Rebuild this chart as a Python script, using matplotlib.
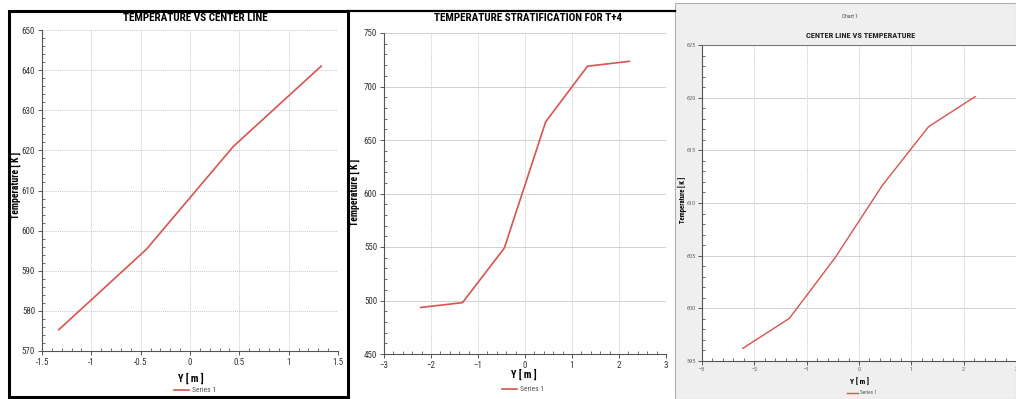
import matplotlib
matplotlib.use('Agg')
import matplotlib.pyplot as plt
from matplotlib import font_manager
from matplotlib.patches import Rectangle
from matplotlib.ticker import MultipleLocator, AutoMinorLocator

# Data
y1 = [-1.33, -0.44, 0.44, 1.33]
t1 = [575.3, 595.4, 621.0, 641.0]

y2 = [-2.22, -1.33, -0.44, 0.44, 1.33, 2.22]
t2 = [493.5, 498.0, 549.0, 667.0, 719.0, 723.5]

y3 = [-2.22, -1.33, -0.45, 0.45, 1.33, 2.22]
t3 = [596.2, 599.05, 604.85, 611.7, 617.25, 620.1]

titles = ['TEMPERATURE VS CENTER LINE', 'TEMPERATURE STRATIFICATION FOR T+4',
          'CENTER LINE VS TEMPERATURE']

# pick a narrow font if one is around
names = {f.name for f in font_manager.fontManager.ttflist}
font = 'DejaVu Sans'
for cand in ['Liberation Sans Narrow', 'Roboto Condensed', 'Open Sans Condensed']:
    if cand in names:
        font = cand
        break
plt.rcParams['font.family'] = [font, 'DejaVu Sans']

W, H = 1016, 399
RED = '#d9534f'


def box(l, t, r, b):
    return [l / W, 1 - b / H, (r - l) / W, (b - t) / H]


def fx(x):
    return x / W


def fy(y):
    return 1 - y / H


fig = plt.figure(figsize=(W / 100, H / 100), dpi=100)
fig.patch.set_facecolor('white')

# grey background of the third screenshot
fig.patches.append(Rectangle((fx(675), 0), 1 - fx(675), fy(3), transform=fig.transFigure,
                             facecolor='#efefef', edgecolor='#b0b0b0', lw=0.8, zorder=-2))
# black frames around the first two screenshots
fig.patches.append(Rectangle((fx(8.5), fy(397)), fx(348) - fx(8.5), fy(10.5) - fy(397),
                             transform=fig.transFigure, facecolor='none',
                             edgecolor='black', lw=2.2, zorder=5))
fig.lines.append(plt.Line2D([fx(348), fx(675)], [fy(10.5), fy(10.5)],
                            transform=fig.transFigure, color='black', lw=1.6))


def style_axes(ax, fs, solid_h=False):
    ax.set_facecolor('white')
    for s in ['top', 'right']:
        ax.spines[s].set_visible(False)
    for s in ['left', 'bottom']:
        ax.spines[s].set_color('#555555')
        ax.spines[s].set_linewidth(0.8)
    ax.tick_params(which='major', direction='out', length=3, width=0.7,
                   color='#555555', labelsize=fs, labelcolor='#333333', pad=2)
    ax.tick_params(which='minor', direction='in', length=2, width=0.6, color='#555555')
    ax.xaxis.set_minor_locator(AutoMinorLocator(5))
    ax.yaxis.set_minor_locator(AutoMinorLocator(5))
    ax.grid(True, axis='x', color='#c8c8c8', ls=(0, (1, 1)), lw=0.7)
    if solid_h:
        ax.grid(True, axis='y', color='#d0d0d0', ls='-', lw=0.7)
    else:
        ax.grid(True, axis='y', color='#c8c8c8', ls=(0, (1, 1)), lw=0.7)
    ax.set_axisbelow(True)


def legend(ax, cx, cy, fs):
    ax.legend(loc='center', bbox_to_anchor=(fx(cx), fy(cy)), bbox_transform=fig.transFigure,
              frameon=False, fontsize=fs, handlelength=2.0, handletextpad=0.4,
              labelcolor='#555555', borderpad=0)


# ---- panel 1
ax1 = fig.add_axes(box(42, 30, 338, 351))
ax1.plot(y1, t1, color=RED, lw=1.2, label='Series 1')
ax1.set_xlim(-1.5, 1.5)
ax1.set_ylim(570, 650)
ax1.xaxis.set_major_locator(MultipleLocator(0.5))
ax1.yaxis.set_major_locator(MultipleLocator(10))
style_axes(ax1, 6.5)
ax1.set_xticks([-1.5, -1, -0.5, 0, 0.5, 1, 1.5])
ax1.set_xticklabels(['-1.5', '-1', '-0.5', '0', '0.5', '1', '1.5'])
fig.text(fx(195), fy(18), titles[0], ha='center', va='center', fontsize=8, fontweight='bold')
fig.text(fx(15), fy(185), 'Temperature [ K ]', ha='center', va='center', rotation=90,
         fontsize=7, fontweight='bold')
fig.text(fx(191), fy(378), 'Y [ m ]', ha='center', va='center', fontsize=7.5, fontweight='bold')
legend(ax1, 195, 390, 5.5)

# ---- panel 2
ax2 = fig.add_axes(box(384, 33, 666, 354))
ax2.plot(y2, t2, color=RED, lw=1.2, label='Series 1')
ax2.set_xlim(-3, 3)
ax2.set_ylim(450, 750)
ax2.xaxis.set_major_locator(MultipleLocator(1))
ax2.yaxis.set_major_locator(MultipleLocator(50))
style_axes(ax2, 6.5, solid_h=True)
fig.text(fx(528), fy(18), titles[1], ha='center', va='center', fontsize=8, fontweight='bold')
fig.text(fx(354), fy(192), 'Temperature [ K ]', ha='center', va='center', rotation=90,
         fontsize=7, fontweight='bold')
fig.text(fx(524), fy(374), 'Y [ m ]', ha='center', va='center', fontsize=7.5, fontweight='bold')
legend(ax2, 523, 389, 5.5)

# ---- panel 3
ax3 = fig.add_axes(box(702, 45, 1016, 361))
ax3.plot(y3, t3, color=RED, lw=1.0, label='Series 1')
ax3.set_xlim(-3, 3)
ax3.set_ylim(595, 625)
ax3.xaxis.set_major_locator(MultipleLocator(1))
ax3.yaxis.set_major_locator(MultipleLocator(5))
style_axes(ax3, 4.5, solid_h=True)
ax3.spines['top'].set_visible(True)
ax3.spines['top'].set_color('#777777')
ax3.tick_params(which='major', labelcolor='#666666', pad=1.5)
fig.text(fx(850), fy(17), 'Chart 1', ha='center', va='center', fontsize=4, color='#444444')
fig.text(fx(861), fy(36), titles[2], ha='center', va='center', fontsize=6, fontweight='bold',
         color='#222222')
fig.text(fx(683), fy(200), 'Temperature [ K ]', ha='center', va='center', rotation=90,
         fontsize=4.8, fontweight='bold')
fig.text(fx(860), fy(381), 'Y [ m ]', ha='center', va='center', fontsize=5.5, fontweight='bold')
legend(ax3, 862, 393, 3.8)

fig.savefig('out.png', dpi=100, facecolor=fig.get_facecolor())
